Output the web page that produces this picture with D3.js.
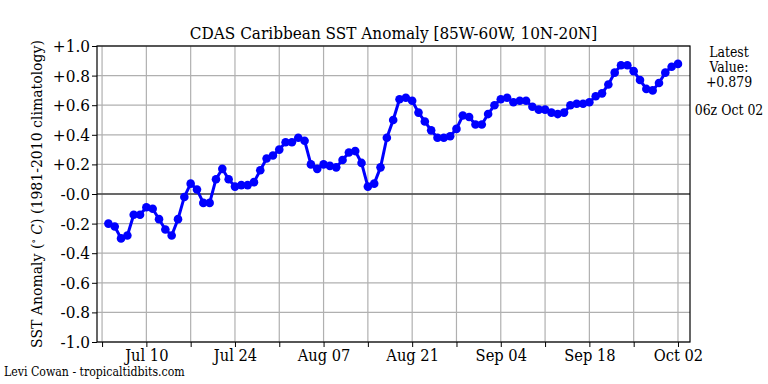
<!DOCTYPE html>
<html><head><meta charset="utf-8">
<script src="https://cdn.jsdelivr.net/npm/d3@7/dist/d3.min.js"></script>
<style>body{margin:0;background:#fff}svg{display:block;font-family:"DejaVu Serif Condensed","DejaVu Serif",serif}</style>
</head><body><svg id="c" width="768" height="384"></svg>
<script>
const startDate = "2023-07-04";
const values = [-0.20,-0.22,-0.30,-0.28,-0.14,-0.14,-0.09,-0.10,-0.17,-0.24,-0.28,-0.17,-0.02,0.07,0.03,-0.06,-0.06,0.10,0.17,0.10,
0.05,0.06,0.06,0.08,0.16,0.24,0.26,0.30,0.35,0.35,0.38,0.36,0.20,0.17,0.20,0.19,0.18,0.23,0.28,0.29,
0.21,0.05,0.07,0.18,0.38,0.50,0.64,0.65,0.63,0.55,0.49,0.43,0.38,0.38,0.39,0.44,0.53,0.52,0.47,0.47,
0.54,0.60,0.64,0.65,0.62,0.63,0.63,0.59,0.57,0.57,0.55,0.54,0.55,0.60,0.61,0.61,0.62,0.66,0.68,0.74,
0.82,0.87,0.87,0.83,0.77,0.71,0.70,0.75,0.82,0.86,0.879];
const yTicks = [1.0,0.8,0.6,0.4,0.2,0.0,-0.2,-0.4,-0.6,-0.8,-1.0];
const yTickLabels = ["+1.0","+0.8","+0.6","+0.4","+0.2","-0.0","-0.2","-0.4","-0.6","-0.8","-1.0"];
const xTickLabels = ["Jul 10","Jul 24","Aug 07","Aug 21","Sep 04","Sep 18","Oct 02"];
const title = "CDAS Caribbean SST Anomaly [85W-60W, 10N-20N]";
const latestLines = ["Latest","Value:","+0.879"];
const latestTime = "06z Oct 02";
const credit = "Levi Cowan - tropicaltidbits.com";

const FF = "DejaVu Serif Condensed, DejaVu Serif, serif";
const day = 864e5;
const t0 = new Date(startDate+"T00:00:00Z");
const data = values.map((v,i)=>({d:new Date(t0.getTime()+i*day), v}));
const svg = d3.select("#c");
const L=97,R=690,T=46,B=342;
const x = d3.scaleUtc().domain([new Date(t0.getTime()-1.8*day), new Date(t0.getTime()+91.9*day)]).range([L,R]);
const y = d3.scaleLinear().domain([-1,1]).range([B,T]);
const last = data[data.length-1].d;
const majorTicks = d3.range(0,7).map(i=>new Date(last.getTime()-(6-i)*14*day));
const allTicks = d3.range(0,14).map(i=>new Date(last.getTime()-(13-i)*7*day));

// grid
svg.append("g").selectAll("line").data(allTicks).join("line")
  .attr("x1",d=>x(d)).attr("x2",d=>x(d)).attr("y1",T).attr("y2",B)
  .attr("stroke","#b0b0b0").attr("stroke-width",1.2);
svg.append("g").selectAll("line").data(yTicks).join("line")
  .attr("x1",L).attr("x2",R).attr("y1",d=>y(d)).attr("y2",d=>y(d))
  .attr("stroke","#b0b0b0").attr("stroke-width",1.2);
svg.append("line").attr("x1",L).attr("x2",R).attr("y1",y(0)).attr("y2",y(0))
  .attr("stroke","#444").attr("stroke-width",1.5);

// axes
const xa = svg.append("g").attr("transform",`translate(0,${B})`)
  .call(d3.axisBottom(x).tickValues(allTicks).tickSize(5)
    .tickFormat(d=>{const i=majorTicks.findIndex(m=>m.getTime()===d.getTime());return i>=0?xTickLabels[i]:"";}));
xa.select(".domain").remove();
xa.selectAll("text").attr("font-family",FF).attr("font-size",16.3).attr("fill","#000").attr("dy","0.7em");
xa.selectAll("line").attr("stroke","#000");
const ya = svg.append("g").attr("transform",`translate(${L},0)`)
  .call(d3.axisLeft(y).tickValues(yTicks).tickSize(5).tickFormat((d,i)=>yTickLabels[i]));
ya.select(".domain").remove();
ya.selectAll("text").attr("font-family",FF).attr("font-size",17).attr("fill","#000").attr("x",-7);
ya.selectAll("line").attr("stroke","#000");

// series
svg.append("path").datum(data).attr("fill","none").attr("stroke","#0000ff").attr("stroke-width",3)
  .attr("stroke-linejoin","round")
  .attr("d",d3.line().x(d=>x(d.d)).y(d=>y(d.v)));
svg.append("g").selectAll("circle").data(data).join("circle")
  .attr("cx",d=>x(d.d)).attr("cy",d=>y(d.v)).attr("r",4.3).attr("fill","#0000ff");

// frame
svg.append("rect").attr("x",L).attr("y",T).attr("width",R-L).attr("height",B-T)
  .attr("fill","none").attr("stroke","#000").attr("stroke-width",1.2);

// texts
svg.append("text").attr("x",(L+R)/2).attr("y",39).attr("text-anchor","middle")
  .attr("font-size",17).text(title);
const yl = svg.append("text").attr("transform",`translate(42,${(T+B)/2}) rotate(-90)`)
  .attr("text-anchor","middle").attr("font-size",15.6);
yl.append("tspan").text("SST Anomaly (");
yl.append("tspan").attr("font-size",10).attr("dy",-5).text("\u2218");
yl.append("tspan").attr("dy",5).text(" ");
yl.append("tspan").attr("font-style","italic").text("C");
yl.append("tspan").text(") (1981-2010 climatology)");
svg.append("g").selectAll("text").data(latestLines).join("text")
  .attr("x",729).attr("y",(d,i)=>57+i*15).attr("text-anchor","middle").attr("font-size",13.9).text(d=>d);
svg.append("text").attr("x",729).attr("y",115).attr("text-anchor","middle").attr("font-size",13.9).text(latestTime);
svg.append("text").attr("x",4).attr("y",376).attr("font-size",12.2).text(credit);
</script></body></html>
